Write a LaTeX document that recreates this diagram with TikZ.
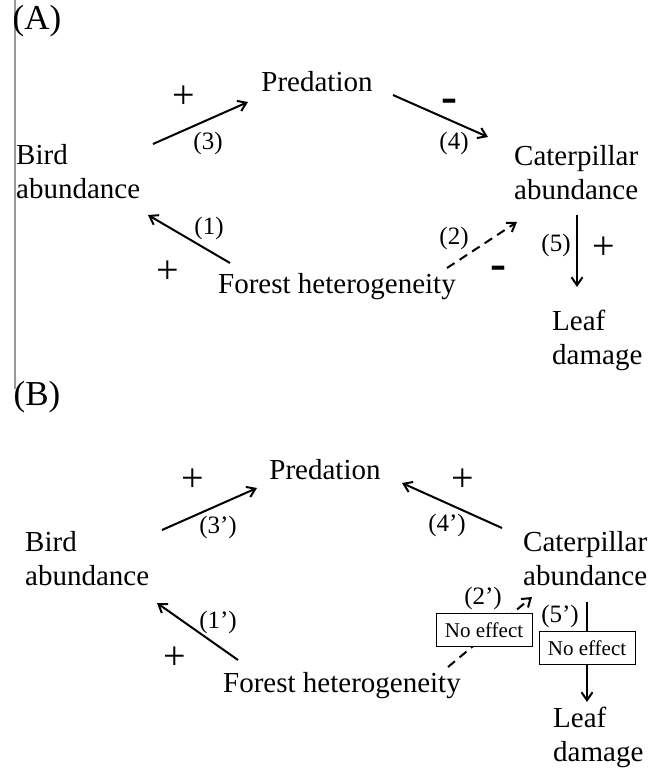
\documentclass[tikz,border=0pt]{standalone}
\usepackage{fontspec}
\setmainfont{Liberation Serif}
\usetikzlibrary{arrows.meta}
\begin{document}
\begin{tikzpicture}[x=1pt,y=-1pt,
  term/.style={inner sep=0pt, align=left, anchor=west, font=\fontsize{29}{34}\selectfont},
  panel/.style={inner sep=0pt, font=\fontsize{35}{35}\selectfont},
  num/.style={inner sep=0pt, font=\fontsize{25}{25}\selectfont},
  plussign/.style={inner sep=0pt, font=\fontsize{40}{40}\selectfont},
  minussign/.style={inner sep=0pt, font=\fontsize{48}{48}\selectfont\bfseries},
  noeff/.style={draw, line width=0.9pt, fill=white, inner sep=0pt, minimum width=96pt, minimum height=33pt, font=\fontsize{21}{21}\selectfont},
  arr/.style={line width=2pt, -{Straight Barb[length=8pt,width=11pt,line width=2pt]}},
  darr/.style={arr, dash pattern=on 9pt off 6pt}
]
\useasboundingbox (0,0) rectangle (660,769);
\fill[white] (0,0) rectangle (660,769);
% ---------- panel A ----------
\coordinate (vtop) at (15,0);
\coordinate (vbot) at (15,389);
\draw[gray!80, line width=1.5pt] (vtop) -- (vbot);
\node[panel] (pA) at (37,21) {(A)};
\node[term] (birdA) at (16,172) {Bird\\abundance};
\node[term, anchor=center] (predA) at (317,82) {Predation};
\node[term] (catA) at (514,173) {Caterpillar\\abundance};
\node[term] (leafA) at (552,340) {Leaf\\damage};
\node[term] (forA) at (218,287) {Forest heterogeneity};
% connector end points
\coordinate (a3s) at (153,144); \coordinate (a3e) at (248,102);
\coordinate (a1s) at (230,263); \coordinate (a1e) at (148,215);
\coordinate (a4s) at (393,95);  \coordinate (a4e) at (488,137);
\coordinate (a2s) at (447,268); \coordinate (a2e) at (517,222);
\coordinate (a5s) at (577,215); \coordinate (a5e) at (577,287);
\draw[arr] (a3s) -- (a3e);
\draw[arr] (a1s) -- (a1e);
\draw[arr] (a4s) -- (a4e);
\draw[darr] (a2s) -- (a2e);
\draw[arr] (a5s) -- (a5e);
\node[num] (l3) at (208,143) {(3)};
\node[num] (l1) at (209,228) {(1)};
\node[num] (l4) at (454,143) {(4)};
\node[num] (l2) at (454,238) {(2)};
\node[num] (l5) at (556,245) {(5)};
\node[plussign] (pa1) at (184,97) {+};
\node[plussign] (pa2) at (168,272) {+};
\node[plussign] (pa3) at (604,248) {+};
\node[minussign] (ma1) at (449,106) {-};
\node[minussign] (ma2) at (498,273) {-};
% ---------- panel B ----------
\node[panel] (pB) at (37,397) {(B)};
\node[term] (birdB) at (25,559) {Bird\\abundance};
\node[term, anchor=center] (predB) at (325,470) {Predation};
\node[term] (catB) at (523,559) {Caterpillar\\abundance};
\node[term] (leafB) at (553,737) {Leaf\\damage};
\node[term] (forB) at (223,686) {Forest heterogeneity};
\coordinate (b3s) at (162,530); \coordinate (b3e) at (257,488);
\coordinate (b1s) at (238,660); \coordinate (b1e) at (157,603);
\coordinate (b4s) at (502,528); \coordinate (b4e) at (402,483);
\coordinate (b2s) at (448,667); \coordinate (b2e) at (532,597);
\coordinate (b5s) at (587,602); \coordinate (b5e) at (587,702);
\draw[arr] (b3s) -- (b3e);
\draw[arr] (b1s) -- (b1e);
\draw[arr] (b4s) -- (b4e);
\draw[darr] (b2s) -- (b2e);
\draw[arr] (b5s) -- (b5e);
\node[noeff] (ne2) at (484,630) {No effect};
\node[noeff] (ne5) at (587,648) {No effect};
\node[num] (m3) at (218,527) {(3’)};
\node[num] (m1) at (218,622) {(1’)};
\node[num] (m4) at (447,525) {(4’)};
\node[num] (m2) at (483,598) {(2’)};
\node[num] (m5) at (560,616) {(5’)};
\node[plussign] (pb1) at (193,480) {+};
\node[plussign] (pb2) at (175,658) {+};
\node[plussign] (pb3) at (463,480) {+};
\end{tikzpicture}
\end{document}
